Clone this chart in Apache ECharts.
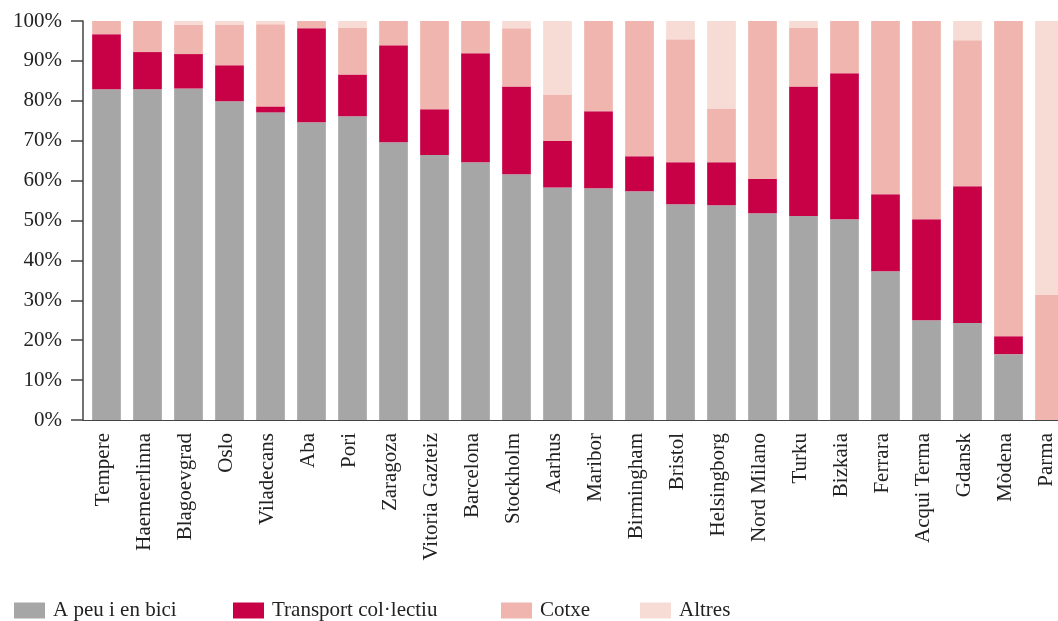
<!DOCTYPE html>
<html>
<head>
<meta charset="utf-8">
<script src="https://cdn.jsdelivr.net/npm/echarts@6/dist/echarts.min.js"></script>
<style>html,body{margin:0;padding:0;background:#fff}#c{width:1058px;height:621px}</style>
</head>
<body>
<div id="c"></div>
<script>
const categories = ["Tempere","Haemeerlinna","Blagoevgrad","Oslo","Viladecans","Aba","Pori","Zaragoza","Vitoria Gazteiz","Barcelona","Stockholm","Aarhus","Maribor","Birmingham","Bristol","Helsingborg","Nord Milano","Turku","Bizkaia","Ferrara","Acqui Terma","Gdansk","Mòdena","Parma"];
const peuBici   = [82.9,82.9,83.1,79.9,77.1,74.6,76.1,69.6,66.4,64.6,61.6,58.3,58.1,57.3,54.1,53.8,51.8,51.1,50.3,37.3,25.0,24.3,16.5,0];
const transport = [13.8,9.3,8.6,9.0,1.5,23.6,10.5,24.3,11.5,27.3,22.0,11.6,19.3,8.8,10.5,10.8,8.6,32.5,36.6,19.3,25.3,34.3,4.5,0];
const cotxe     = [3.3,7.8,7.4,10.2,20.6,1.8,11.8,6.1,22.1,8.1,14.6,11.7,22.6,33.9,30.8,13.5,39.6,14.8,13.1,43.4,49.7,36.6,79.0,31.3];
const altres    = [0,0,0.9,0.9,0.8,0,1.6,0,0,0,1.8,18.4,0,0,4.6,21.9,0,1.6,0,0,0,4.8,0,68.7];
const seriesNames = ["A peu i en bici","Transport col·lectiu","Cotxe","Altres"];
const colors = ["#a6a6a6","#c80046","#efb5ae","#f7dcd6"];
const yTicks = [0,10,20,30,40,50,60,70,80,90,100];

const FONT = "'Liberation Serif', 'DejaVu Serif', serif";
const dataSets = [peuBici, transport, cotxe, altres];
const legendLefts = [14, 233, 501, 640];

const chart = echarts.init(document.getElementById('c'), null, {renderer:'canvas'});
chart.setOption({
  animation: false,
  textStyle: {fontFamily: FONT, color: '#222'},
  grid: [
    {left: 83, top: 21, bottom: 201, right: -9, containLabel: false, outerBoundsMode: 'none'},
    {left: 86, top: 21, bottom: 201, right: -12, containLabel: false, outerBoundsMode: 'none'}
  ],
  legend: seriesNames.map((n, i) => ({
    data: [n], left: legendLefts[i], top: 600, padding: 0, itemWidth: 31, itemHeight: 16, itemGap: 0,
    icon: 'rect', textStyle: {fontFamily: FONT, fontSize: 21, color: '#222', padding: [0,0,0,3]}
  })),
  xAxis: [{
    type: 'category', data: categories, gridIndex: 0,
    axisLine: {lineStyle: {color: '#444', width: 1}},
    axisTick: {length: 10, lineStyle: {color: '#444', width: 1.5}},
    axisLabel: {rotate: 90, margin: 13, fontSize: 21, fontFamily: FONT, color: '#222', interval: 0}
  }, {
    type: 'category', data: categories, gridIndex: 1, show: false
  }],
  yAxis: [{
    type: 'value', min: 0, max: 100, interval: 10, gridIndex: 0,
    axisLine: {show: true, lineStyle: {color: '#444', width: 1.5}},
    axisTick: {show: true, length: 12, lineStyle: {color: '#444', width: 1.5}},
    splitLine: {show: false},
    axisLabel: {margin: 21, fontSize: 21, fontFamily: FONT, color: '#222',
      formatter: v => yTicks.includes(v) ? v + '%' : ''}
  }, {
    type: 'value', min: 0, max: 100, interval: 10, gridIndex: 1, show: false, splitLine: {show: false}
  }],
  series: seriesNames.map((n, i) => ({
    name: n, type: 'bar', stack: 'total', barCategoryGap: '30%', xAxisIndex: 1, yAxisIndex: 1,
    itemStyle: {color: colors[i]}, data: dataSets[i]
  }))
});
</script>
</body>
</html>
